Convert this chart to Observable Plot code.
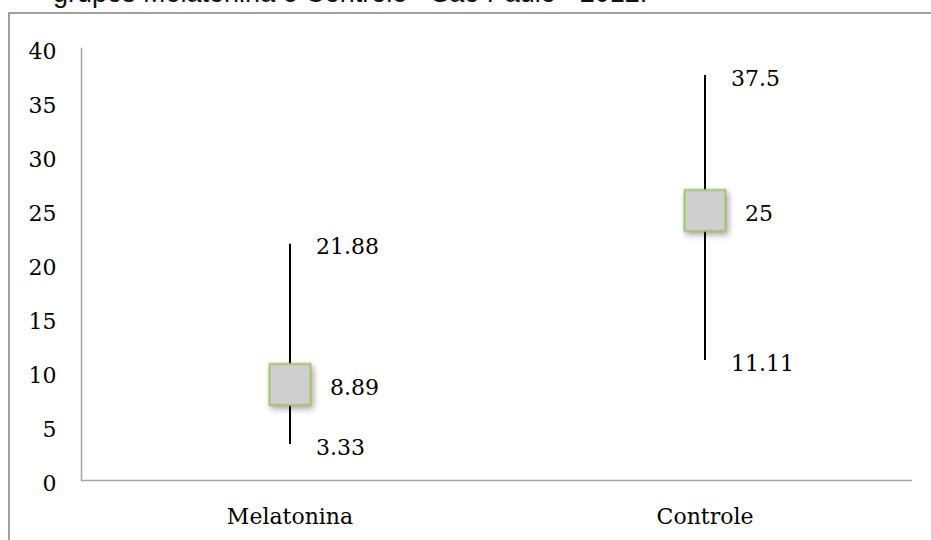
<!DOCTYPE html>
<html>
<head>
<meta charset="utf-8">
<script src="https://cdn.jsdelivr.net/npm/d3@7"></script>
<script src="https://cdn.jsdelivr.net/npm/@observablehq/plot@0.6"></script>
<style>
  html, body { margin: 0; padding: 0; background: #ffffff; }
  #wrap { position: relative; width: 931px; height: 540px; overflow: hidden; background: #ffffff; }
  #title { position: absolute; left: 53px; top: -20px; font-family: "Liberation Sans", Arial, sans-serif; font-size: 27px; line-height: 27px; color: #111; white-space: nowrap; }
  #border { position: absolute; left: 8px; top: 12px; width: 1000px; height: 700px; border-top: 2px solid #a0a0a0; border-left: 2px solid #a0a0a0; box-sizing: border-box; }
  #chart { position: absolute; left: 0; top: 0; }
</style>
</head>
<body>
<div id="wrap">
  <div id="title">grupos Melatonina e Controle - São Paulo - 2012.</div>
  <div id="border"></div>
  <div id="chart"></div>
</div>
<script>
const groups = ["Melatonina", "Controle"];
const lowValues = [3.33, 11.11];
const medianValues = [8.89, 25];
const highValues = [21.88, 37.5];
const yTicks = [0, 5, 10, 15, 20, 25, 30, 35, 40];

const rows = groups.map((g, i) => ({
  group: g,
  low: lowValues[i],
  median: medianValues[i],
  high: highValues[i]
}));

const axisColor = "#a6a6a6";

const chart = Plot.plot({
  width: 931,
  height: 540,
  marginLeft: 81,
  marginRight: 19,
  marginTop: 48,
  marginBottom: 60,
  style: { fontFamily: "DejaVu Serif", fontSize: "22px", background: "transparent", color: "#000" },
  x: { type: "band", domain: groups, padding: 0, axis: null },
  y: { domain: [0, 40], axis: null },
  marks: [
    Plot.axisX({ tickSize: 0, tickPadding: 28, label: null, fontSize: 22 }),
    Plot.axisY(yTicks, { tickSize: 0, tickPadding: 25, dy: 3, label: null, fontSize: 22 }),
    Plot.frame({ anchor: "left", stroke: axisColor, strokeWidth: 1.5 }),
    Plot.ruleY([0], { stroke: axisColor, strokeWidth: 1.5 }),
    Plot.ruleX(rows, { x: "group", y1: "low", y2: "high", stroke: "#000", strokeWidth: 2 }),
    Plot.dot(rows, {
      x: "group", y: "median", symbol: "square", r: 23.1,
      fill: "#cfcfcf", stroke: "#a3c66b", strokeWidth: 2,
      imageFilter: "drop-shadow(2px 3px 3px rgba(0,0,0,0.35))"
    }),
    Plot.text(rows, { x: "group", y: "high", text: d => String(d.high), textAnchor: "start", dx: 26, dy: 3, fill: "#000", fontSize: 22 }),
    Plot.text(rows, { x: "group", y: "median", text: d => String(d.median), textAnchor: "start", dx: 40, dy: 3, fill: "#000", fontSize: 22 }),
    Plot.text(rows, { x: "group", y: "low", text: d => String(d.low), textAnchor: "start", dx: 26, dy: 3, fill: "#000", fontSize: 22 })
  ]
});

document.getElementById("chart").appendChild(chart);
</script>
</body>
</html>
